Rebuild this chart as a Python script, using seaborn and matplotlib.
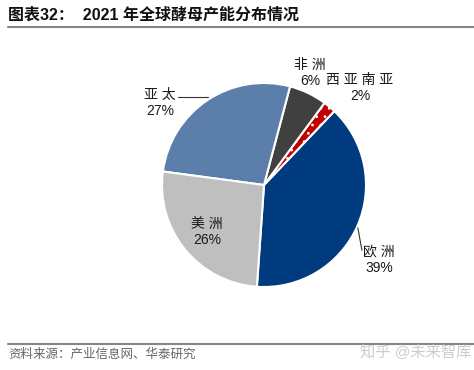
import matplotlib
matplotlib.use("Agg")
import matplotlib.pyplot as plt
import seaborn as sns

# data
regions = ["欧洲", "西亚南亚", "非洲", "亚太", "美洲"]
shares = [39, 2, 6, 27, 26]
colors = ["#003B7F", "#C00000", "#404040", "#5B7FAA", "#BFBFBF"]

# label spots in pie data units (radius 1)
label_xy = [(1.13, -0.73), (0.94, 0.95), (0.45, 1.10), (-1.02, 0.80), (-0.56, -0.46)]

sns.set_theme(style="white")
plt.rcParams["font.family"] = ["Liberation Sans", "Noto Sans CJK SC", "DejaVu Sans"]
plt.rcParams["hatch.color"] = "white"
plt.rcParams["hatch.linewidth"] = 0.8

W, H = 474, 370
fig = plt.figure(figsize=(W / 100, H / 100), dpi=100)
fig.patch.set_facecolor("white")

cx, cy, r = 264, 185, 102
ax = fig.add_axes([(cx - r) / W, (H - cy - r) / H, 2 * r / W, 2 * r / H])
wedges, _ = ax.pie(shares, colors=colors, startangle=266, counterclock=True,
                   wedgeprops=dict(edgecolor="white", linewidth=1.5))
wedges[1].set_hatch("..")
ax.set_xlim(-1, 1)
ax.set_ylim(-1, 1)
ax.set_aspect("equal")
ax.axis("off")

for name, val, (lx, ly) in zip(regions, shares, label_xy):
    ax.text(lx, ly, f"{' '.join(name)}\n{val}%", ha="center", va="center", fontsize=10,
            color="#1a1a1a", linespacing=1.2, clip_on=False)

# leader lines
ax.plot([-0.84, -0.55], [0.86, 0.86], color="#333333", lw=0.8, clip_on=False)
ax.plot([0.92, 0.96], [-0.42, -0.64], color="#333333", lw=0.8, clip_on=False)

# title and rules
fig.text(8 / W, 1 - 15 / H, "图表32：  2021 年全球酵母产能分布情况", fontsize=11.5,
         fontweight="bold", va="center", ha="left", color="#111111")
fig.add_artist(plt.Line2D([8 / W, 1], [1 - 27 / H] * 2, color="#7F8790", lw=1.5))
fig.add_artist(plt.Line2D([8 / W, 1], [1 - 344 / H] * 2, color="#7F8790", lw=1.5))
fig.text(8 / W, 1 - 355 / H, "资料来源：产业信息网、华泰研究", fontsize=9,
         va="center", ha="left", color="#666666")
fig.text(360 / W, 1 - 352 / H, "知乎 @未来智库", fontsize=11,
         va="center", ha="left", color="#CCCCCC")

fig.savefig("out.png", dpi=100, facecolor="white")
